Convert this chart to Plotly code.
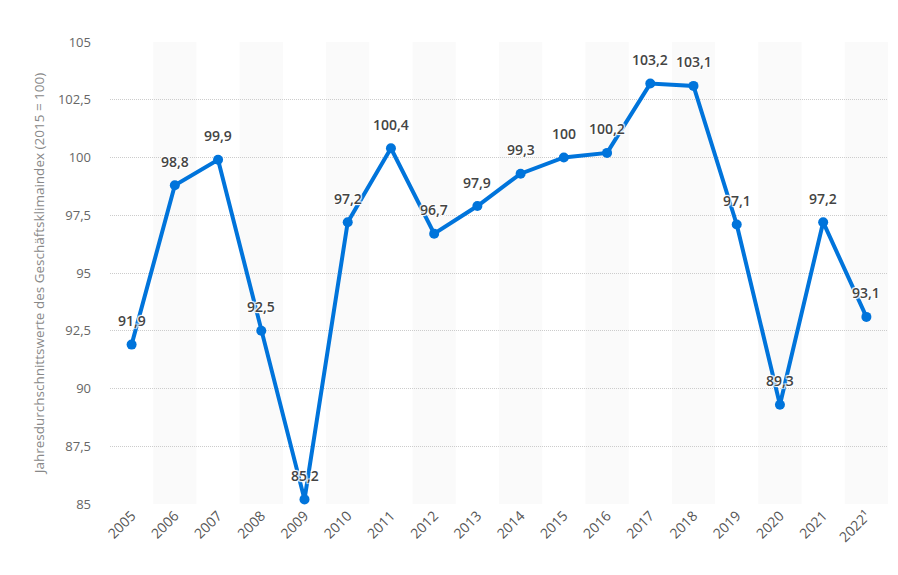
import plotly.graph_objects as go

years = ["2005", "2006", "2007", "2008", "2009", "2010", "2011", "2012", "2013",
         "2014", "2015", "2016", "2017", "2018", "2019", "2020", "2021", "2022¹"]
values = [91.9, 98.8, 99.9, 92.5, 85.2, 97.2, 100.4, 96.7, 97.9,
          99.3, 100, 100.2, 103.2, 103.1, 97.1, 89.3, 97.2, 93.1]
y_ticks = [85, 87.5, 90, 92.5, 95, 97.5, 100, 102.5, 105]
y_ticktext = ["85", "87,5", "90", "92,5", "95", "97,5", "100", "102,5", "105"]
y_title = "Jahresdurchschnittswerte des Geschäftsklimaindex (2015 = 100)"

labels = [("%g" % v).replace(".", ",") for v in values]

fig = go.Figure()
fig.add_trace(go.Scatter(
    x=years, y=values, mode="lines+markers",
    line=dict(color="#0074DB", width=4),
    marker=dict(color="#0074DB", size=10),
    cliponaxis=False, hoverinfo="skip",
))

shadow = "1px 1px 1px white, -1px -1px 1px white, 1px -1px 1px white, -1px 1px 1px white"
annotations = []
for i, (y, t) in enumerate(zip(values, labels)):
    annotations.append(dict(
        x=i, y=y, xref="x", yref="y", text=t, showarrow=False,
        yshift=24, yanchor="middle", xanchor="center",
        font=dict(family="Open Sans", size=14, color="#444444", weight=600, shadow=shadow),
    ))

shapes = []
for i in range(len(years)):
    if i % 2 == 1:
        shapes.append(dict(type="rect", xref="x", yref="paper", x0=i - 0.5, x1=i + 0.5,
                           y0=0, y1=1, fillcolor="#FAFAFA", line=dict(width=0), layer="below"))

fig.update_layout(
    width=898, height=575,
    margin=dict(l=110, r=10, t=42, b=71),
    paper_bgcolor="white", plot_bgcolor="white",
    shapes=shapes, annotations=annotations, showlegend=False,
    font=dict(family="Open Sans", color="#666666"),
    xaxis=dict(type="category", range=[-0.5, len(years) - 0.5], tickangle=-45,
               tickfont=dict(size=14, color="#555555"), showgrid=False, zeroline=False,
               showline=False, ticks=""),
    yaxis=dict(range=[85, 105], tickvals=y_ticks, ticktext=y_ticktext,
               tickfont=dict(size=13, color="#666666"), showgrid=True,
               gridcolor="#CCCCCC", griddash="1px,1px", gridwidth=1, zeroline=False,
               ticklabelstandoff=18,
               title=dict(text=y_title, font=dict(size=13.5, color="#888888"), standoff=10)),
)

fig.write_html("out.html")
